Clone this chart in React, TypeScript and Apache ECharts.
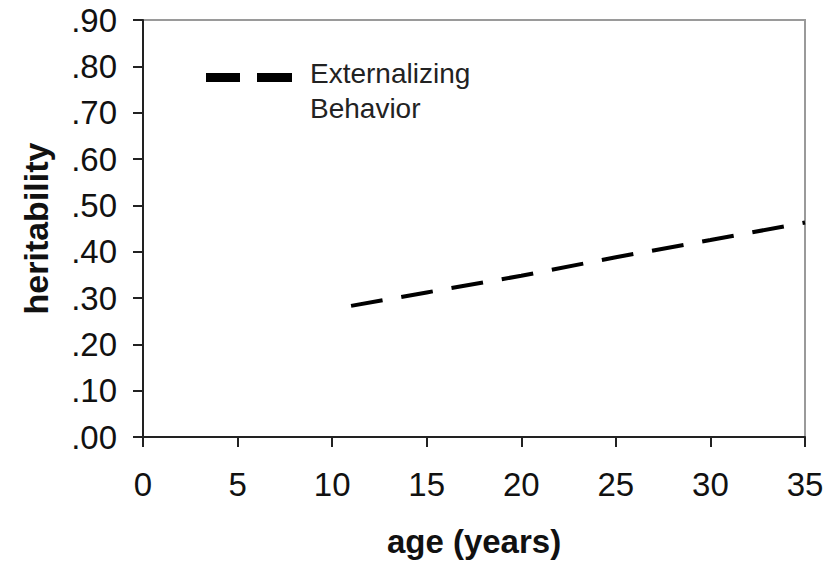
import React, { useEffect, useRef } from "react";
import * as echarts from "echarts";

// Heritability of externalizing behavior across age
const ages = [11, 15, 20, 25, 30, 35];
const heritability = [0.283, 0.312, 0.348, 0.388, 0.425, 0.463];
const seriesName = "Externalizing\nBehavior";
const xAxisTitle = "age (years)";
const yAxisTitle = "heritability";

const FONT = "'Liberation Sans', Arial, Helvetica, sans-serif";

export default function App() {
  const ref = useRef<HTMLDivElement>(null);

  useEffect(() => {
    if (!ref.current) return;
    const chart = echarts.init(ref.current, null, { renderer: "svg" });
    chart.setOption({
      animation: false,
      backgroundColor: "#ffffff",
      grid: {
        left: 143,
        top: 20,
        right: 34,
        bottom: 125,
        containLabel: false,
        outerBoundsMode: "none",
        show: true,
        borderColor: "#9a9a9a",
        borderWidth: 2,
        backgroundColor: "transparent",
      },
      xAxis: {
        type: "value",
        min: 0,
        max: 35,
        interval: 5,
        name: xAxisTitle,
        nameLocation: "middle",
        nameGap: 88,
        nameTextStyle: {
          fontFamily: FONT,
          fontSize: 33,
          fontWeight: "bold",
          color: "#111",
        },
        axisLine: { show: true, lineStyle: { color: "#222", width: 2 } },
        axisTick: { show: true, length: 10, lineStyle: { color: "#222", width: 2 } },
        axisLabel: {
          fontFamily: FONT,
          fontSize: 33,
          color: "#111",
          margin: 31,
        },
        splitLine: { show: false },
      },
      yAxis: {
        type: "value",
        min: 0,
        max: 0.9,
        interval: 0.1,
        name: yAxisTitle,
        nameLocation: "middle",
        nameRotate: 90,
        nameGap: 90,
        nameTextStyle: {
          fontFamily: FONT,
          fontSize: 34,
          fontWeight: "bold",
          color: "#111",
        },
        axisLine: { show: true, lineStyle: { color: "#222", width: 2 } },
        axisTick: { show: true, length: 10, lineStyle: { color: "#222", width: 2 } },
        axisLabel: {
          fontFamily: FONT,
          fontSize: 33,
          color: "#111",
          margin: 26,
          formatter: (v: number) => v.toFixed(2).replace(/^0/, ""),
        },
        splitLine: { show: false },
      },
      series: [
        {
          name: seriesName,
          type: "line",
          data: ages.map((a, i) => [a, heritability[i]]),
          showSymbol: false,
          symbol: "none",
          lineStyle: { color: "#000", width: 4, type: [32, 19], cap: "butt" },
        },
      ],
      graphic: [
        {
          type: "rect",
          left: 206,
          top: 73,
          shape: { width: 34, height: 9 },
          style: { fill: "#000" },
        },
        {
          type: "rect",
          left: 257,
          top: 73,
          shape: { width: 35, height: 9 },
          style: { fill: "#000" },
        },
        {
          type: "text",
          left: 310,
          top: 56,
          style: {
            text: seriesName,
            fontFamily: FONT,
            fontSize: 28,
            lineHeight: 35,
            fill: "#222",
          },
        },
      ],
    });
    return () => chart.dispose();
  }, []);

  return (
    <div
      ref={ref}
      style={{ position: "fixed", left: 0, top: 0, width: 839, height: 562 }}
    />
  );
}
